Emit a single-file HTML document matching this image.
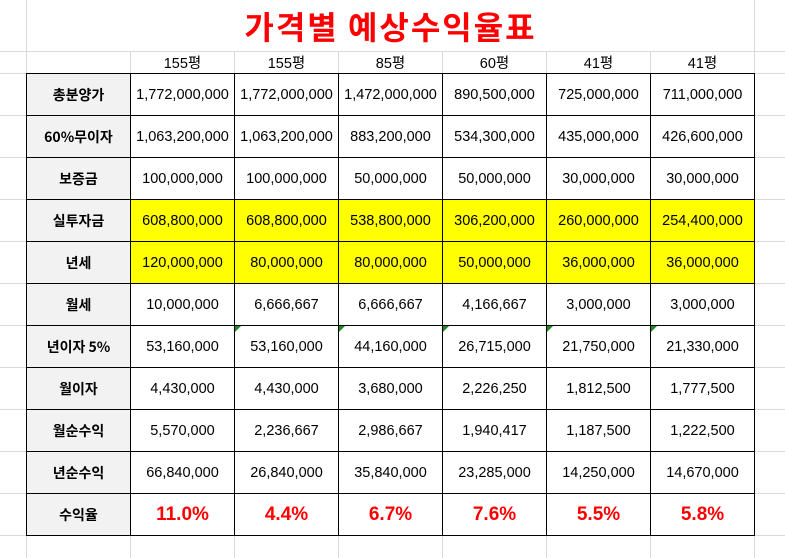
<!DOCTYPE html>
<html><head><meta charset="utf-8"><style>
body{margin:0;width:785px;height:558px;background:#fff;position:relative;overflow:hidden;font-family:"Liberation Sans","Noto Sans CJK KR",sans-serif;}
.v{position:absolute;top:0;width:1px;height:558px;background:#dadada}
.h{position:absolute;left:0;height:1px;width:785px;background:#dadada}
.c{position:absolute;display:flex;align-items:center;justify-content:center;font-size:14.5px;color:#000;box-sizing:border-box}
.t{position:absolute;left:0;top:0;width:785px;height:51px;background:#fff;display:flex;align-items:center;justify-content:center;font-size:32px;font-weight:bold;color:#ff0000;font-family:"Noto Sans CJK KR",sans-serif;letter-spacing:2px}
.g{position:absolute;width:0;height:0;border-top:6px solid #1f8a1f;border-right:6px solid transparent}
</style></head><body>
<div id="grid"></div>
<script>
var xs=[26,130,234,338,442,546,650,754],ys=[51,73,115,157,199,241,283,325,367,409,451,493,535];
var h='';
xs.forEach(function(x){h+='<div class="v" style="left:'+x+'px"></div>';});
ys.forEach(function(y){h+='<div class="h" style="top:'+y+'px"></div>';});
h+='<div class="t" style="left:27px;width:727px">가격별 예상수익율표</div>';
var hdr=['155평','155평','85평','60평','41평','41평'];
hdr.forEach(function(s,i){h+='<div class="c" style="left:'+(xs[i+1]+1)+'px;top:52px;width:103px;height:21px">'+s+'</div>';});
var rows=[
['총분양가','1,772,000,000','1,772,000,000','1,472,000,000','890,500,000','725,000,000','711,000,000'],
['60%무이자','1,063,200,000','1,063,200,000','883,200,000','534,300,000','435,000,000','426,600,000'],
['보증금','100,000,000','100,000,000','50,000,000','50,000,000','30,000,000','30,000,000'],
['실투자금','608,800,000','608,800,000','538,800,000','306,200,000','260,000,000','254,400,000'],
['년세','120,000,000','80,000,000','80,000,000','50,000,000','36,000,000','36,000,000'],
['월세','10,000,000','6,666,667','6,666,667','4,166,667','3,000,000','3,000,000'],
['년이자 5%','53,160,000','53,160,000','44,160,000','26,715,000','21,750,000','21,330,000'],
['월이자','4,430,000','4,430,000','3,680,000','2,226,250','1,812,500','1,777,500'],
['월순수익','5,570,000','2,236,667','2,986,667','1,940,417','1,187,500','1,222,500'],
['년순수익','66,840,000','26,840,000','35,840,000','23,285,000','14,250,000','14,670,000'],
['수익율','11.0%','4.4%','6.7%','7.6%','5.5%','5.8%']];
rows.forEach(function(r,ri){
 var y=73+ri*42;
 r.forEach(function(s,ci){
  var x=xs[ci];
  var bg=ci==0?'#f2f2f2':((ri==3||ri==4)?'#ffff00':'#fff');
  var st='left:'+x+'px;top:'+y+'px;width:105px;height:43px;border:1.5px solid #000;background:'+bg+';';
  if(ci==0) st+='font-weight:bold;font-family:\'Noto Sans CJK KR\',sans-serif;font-size:14px;';
  if(ri==10&&ci>0) st+='color:#ff0000;font-weight:bold;font-size:19px;';
  h+='<div class="c" style="'+st+'">'+s+'</div>';
  if(ri==6&&ci>=2) h+='<div class="g" style="left:'+(x+1)+'px;top:'+(y+1)+'px"></div>';
 });
});
document.getElementById('grid').innerHTML=h;
</script>
</body></html>
